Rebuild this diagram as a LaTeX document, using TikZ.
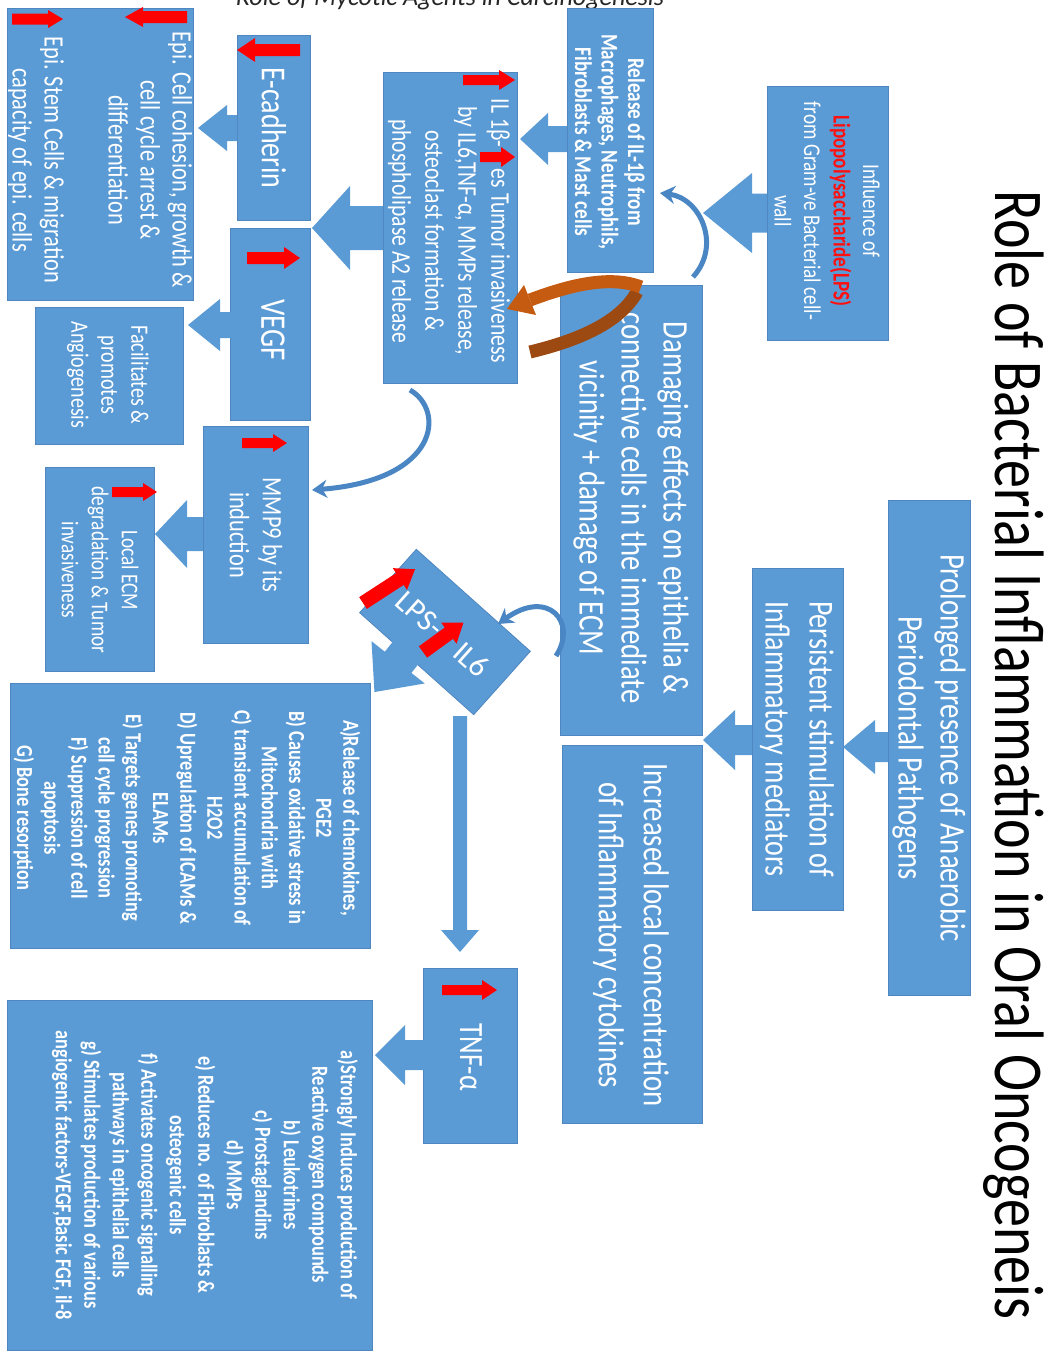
\documentclass[tikz,border=0pt]{standalone}
\usepackage{fontspec}
\setmainfont{Carlito}
\usetikzlibrary{arrows.meta,fit}
\definecolor{boxblue}{HTML}{5B9BD5}
\definecolor{boxedge}{HTML}{4F86C0}
\definecolor{curveblue}{HTML}{4A86C3}
\definecolor{arrred}{HTML}{FF0000}
\definecolor{lpsred}{HTML}{FF1010}
\definecolor{orangec}{HTML}{C55A11}
\definecolor{brownc}{HTML}{9C4A12}
\newcommand{\blkarrow}[8]{%
  \begin{scope}[shift={(#2,#3)},rotate=#4]
    \fill[#1] (0,-#6) -- ({#5-#8},-#6) -- ({#5-#8},-#7) -- (#5,0) -- ({#5-#8},#7) -- ({#5-#8},#6) -- (0,#6) -- cycle;
  \end{scope}}
\newcommand{\fs}[2]{\fontsize{#1}{#2}\selectfont}
\begin{document}
\begin{tikzpicture}[x=1pt,y=-1pt,
  box/.style={draw=boxedge,line width=0.8pt,fill=boxblue,inner sep=0pt},
  txt/.style={rotate=-90,xscale=0.8,text=white,align=center,inner sep=0pt},
  bluefill/.style={fill=boxblue},
  redfill/.style={fill=arrred},
  curv/.style={draw=curveblue,line width=5pt,-{Stealth[length=15pt,width=18pt]}}]
\useasboundingbox (0,0) rectangle (1054,1352);

% titles
\node[rotate=-90,xscale=0.8,anchor=base west,inner sep=0pt,font=\fs{70}{84}] (title) at (995,190) {Role of Bacterial Inflammation in Oral Oncogeneis};
\node[anchor=base,inner sep=0pt,font=\fs{26}{30}\itshape,text=black!85] (toptitle) at (450,5) {Role of Mycotic Agents in Carcinogenesis};

% boxes
\node[box,fit={(888,500)(970,995)}] (prolonged) {};
\node[box,fit={(752,568)(843,910)}] (persist) {};
\node[box,fit={(560,285)(702,735)}] (damage) {};
\node[box,fit={(562,745)(702,1123)}] (increased) {};
\node[box,fit={(767,86)(888,340)}] (influence) {};
\node[box,fit={(567,8)(653,272)}] (release) {};
\node[box,fit={(383,72)(517,383)}] (ilbox) {};
\node[box,fit={(237,35)(310,220)}] (ecad) {};
\node[box,fit={(230,228)(310,420)}] (vegf) {};
\node[box,fit={(7,8)(193,300)}] (epi) {};
\node[box,fit={(35,307)(183,444)}] (facil) {};
\node[box,fit={(203,426)(308,643)}] (mmp) {};
\node[box,fit={(45,467)(154,671)}] (ecm) {};
\node[box,fit={(10,683)(370,948)}] (boxA) {};
\node[box,fit={(423,968)(517,1143)}] (tnf) {};
\node[box,fit={(7,1000)(372,1350)}] (boxa) {};
\node[box,rotate=-41.8,minimum width=153pt,minimum height=85pt] (lpsil) at (445,632) {};

% block arrows
\blkarrow{bluefill}{888}{747}{180}{45}{15}{27}{32}
\blkarrow{bluefill}{752}{740}{180}{49}{15}{30}{32}
\blkarrow{bluefill}{767}{213}{180}{64}{19.5}{40}{49}
\blkarrow{bluefill}{567}{139}{180}{47}{13}{26}{28}
\blkarrow{bluefill}{383}{228}{180}{71}{22}{42}{38}
\blkarrow{bluefill}{237}{128}{180}{39}{13}{23}{29}
\blkarrow{bluefill}{231}{325}{180}{43}{13}{26}{32}
\blkarrow{bluefill}{203}{534}{180}{48}{17}{34}{32}
\blkarrow{bluefill}{425}{1055}{180}{50}{15}{30}{30}
\blkarrow{bluefill}{460}{716}{-90}{236}{7}{19}{22}
\blkarrow{bluefill}{423}{631}{-128.5}{78}{17}{34}{38}

% texts
\node[txt,font=\fs{36}{42}] (tprolonged) at (929,748) {Prolonged presence of Anaerobic\\Periodontal Pathogens};
\node[txt,font=\fs{35}{44}] (tpersist) at (797,739) {Persistent stimulation of\\Inflammatory mediators};
\node[txt,font=\fs{36}{42}] (tdamage) at (631,508) {Damaging effects on epithelia \&\\connective cells in the immediate\\vicinity + damage of ECM};
\node[txt,font=\fs{36}{45}] (tincreased) at (631,935) {Increased local concentration\\of Inflammatory cytokines};
\node[txt,font=\fs{24}{29.5}] (tinfluence) at (827,211) {Influence of\\{\bfseries\color{lpsred}Lipopolysaccharide(LPS)}\\from Gram-ve Bacterial cell-\\wall};
\node[txt,font=\fs{24}{26.5}\bfseries] (trelease) at (610,142) {Release of IL-1β from\\Macrophages, Neutrophils,\\Fibroblasts \& Mast cells};
\node[txt,font=\fs{27}{33}] (til) at (449,231) {IL 1β-\hspace{27pt}es Tumor invasiveness\\by IL6,TNF-α, MMPs release,\\osteoclast formation \&\\phospholipase A2 release};
\node[txt,font=\fs{35}{40}] (tecad) at (274,128) {E-cadherin};
\node[txt,font=\fs{36}{40}] (tvegf) at (273,330) {VEGF};
\node[txt,font=\fs{28}{32}] (tepi) at (100,160) {Epi. Cell cohesion, growth \&\\cell cycle arrest \&\\differentiation\\\mbox{}\\Epi. Stem Cells \& migration\\capacity of epi. cells};
\node[txt,font=\fs{25}{30}] (tfacil) at (108,375) {Facilitates \&\\promotes\\Angiogenesis};
\node[txt,font=\fs{28}{33}] (tmmp) at (256,535) {MMP9 by its\\induction};
\node[txt,font=\fs{24}{30}] (tecm) at (100,570) {Local ECM\\degradation \& Tumor\\invasiveness};
\node[txt,font=\fs{23}{27.2}\bfseries] (tA) at (187,818) {A)Release of chemokines,\\PGE2\\B) Causes oxidative stress in\\Mitochondria with\\C) transient accumulation of\\H2O2\\D) Upregulation of ICAMs \&\\ELAMs\\E) Targets genes promoting\\cell cycle progression\\F) Suppression of cell\\apoptosis\\G) Bone resorption};
\node[txt,font=\fs{34}{40}] (ttnf) at (471,1057) {TNF-α};
\node[txt,font=\fs{23}{28.5}\bfseries] (ta) at (205,1175) {a)Strongly Induces production of\\Reactive oxygen compounds\\b) Leukotrines\\c) Prostaglandins\\d) MMPs\\e) Reduces no. of Fibroblasts \&\\osteogenic cells\\f) Activates oncogenic signalling\\pathways in epithelial cells\\g) Stimulates production of various\\angiogenic factors-VEGF,Basic FGF, il-8};
\node[rotate=-41.8,text=white,inner sep=0pt,font=\fs{31}{36}] (tlps) at (443,634) {LPS-\hspace{24pt}IL6};

% red up/down markers
\blkarrow{redfill}{463}{80}{0}{52}{5}{10}{16}
\blkarrow{redfill}{480}{157}{0}{35}{5}{10}{14}
\blkarrow{redfill}{300}{50}{180}{63}{6}{12}{18}
\blkarrow{redfill}{247}{258}{0}{53}{6}{11}{16}
\blkarrow{redfill}{187}{17}{180}{62}{6}{10}{18}
\blkarrow{redfill}{12}{19}{0}{51}{5.5}{9}{15}
\blkarrow{redfill}{242}{443}{0}{45}{5}{9}{14}
\blkarrow{redfill}{112}{492}{0}{45}{5}{9}{14}
\blkarrow{redfill}{442}{990}{0}{55}{5}{10}{15}
\blkarrow{redfill}{363}{603}{33}{62}{7}{13}{18}
\blkarrow{redfill}{423}{652}{36}{50}{7}{13}{18}

% curved connectors
\coordinate (c1s) at (693,277);
\coordinate (c1e) at (660,193);
\draw[curv] (c1s) .. controls (722,245) and (700,198) .. (c1e);
\coordinate (c2s) at (410,390);
\coordinate (c2e) at (312,490);
\draw[curv] (c2s) .. controls (445,410) and (440,480) .. (c2e);
\coordinate (c3s) at (556,656);
\coordinate (c3e) at (498,624);
\draw[curv] (c3s) .. controls (578,622) and (548,588) .. (c3e);

% orange ribbon arrow
\draw[brownc,line width=13pt] (637,292) .. controls (620,322) and (580,340) .. (530,352);
\draw[orangec,line width=13pt] (641,287) .. controls (610,275) and (570,285) .. (530,300);
\fill[orangec] (524,285) -- (507,309) -- (536,315) -- cycle;
\end{tikzpicture}
\end{document}
